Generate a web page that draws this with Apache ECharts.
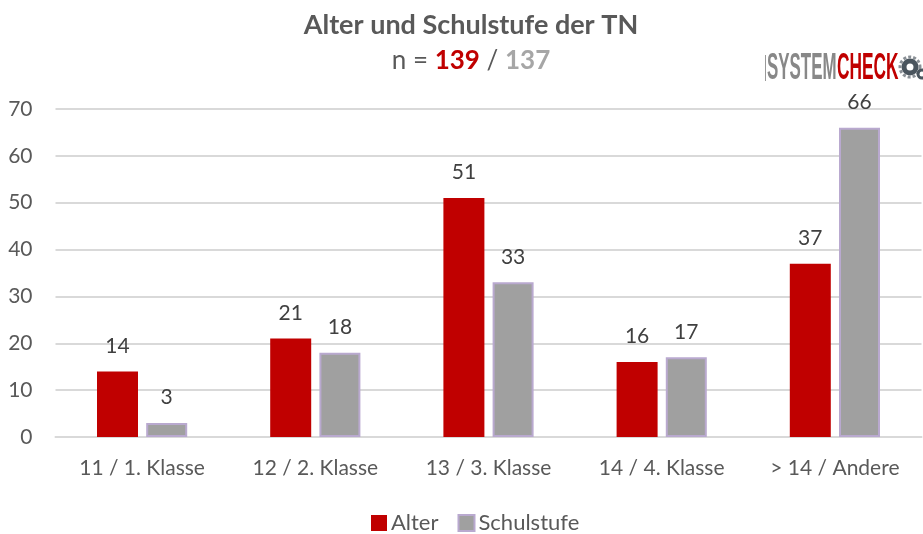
<!DOCTYPE html>
<html>
<head>
<meta charset="utf-8">
<style>
  html, body { margin: 0; padding: 0; background: #fff; }
  #chart { width: 923px; height: 534px; }
</style>
<script src="https://cdn.jsdelivr.net/npm/echarts@6/dist/echarts.min.js"></script>
</head>
<body>
<div id="chart"></div>
<script>
const categories = ['11 / 1. Klasse', '12 / 2. Klasse', '13 / 3. Klasse', '14 / 4. Klasse', '> 14 / Andere'];
const alter = [14, 21, 51, 16, 37];
const schulstufe = [3, 18, 33, 17, 66];
const font = 'Lato, "Open Sans", sans-serif';

const labelStyle = {
  show: true,
  position: 'top',
  distance: 15,
  color: '#404040',
  fontSize: 21,
  fontFamily: font
};

const myChart = echarts.init(document.getElementById('chart'));
myChart.setOption({
  animation: false,
  title: [{
    text: 'Alter und Schulstufe der TN',
    left: 466,
    top: 7,
    textAlign: 'center',
    textStyle: { color: '#595959', fontSize: 27, fontWeight: 'bold', fontFamily: font }
  }, {
    text: 'n = {a|139} / {b|137}',
    left: 466,
    top: 43,
    textAlign: 'center',
    textStyle: {
      color: '#595959', fontSize: 26, fontWeight: 'normal', fontFamily: font,
      rich: {
        a: { color: '#c00000', fontSize: 26, fontWeight: 'bold', fontFamily: font },
        b: { color: '#a6a6a6', fontSize: 26, fontWeight: 'bold', fontFamily: font }
      }
    }
  }],
  legend: {
    left: 366,
    top: 507,
    icon: 'rect',
    itemWidth: 16,
    itemHeight: 16,
    itemGap: 19,
    textStyle: { color: '#595959', fontSize: 22, fontFamily: font, padding: [0, 0, 0, -1] },
    data: ['Alter', 'Schulstufe']
  },
  grid: { left: 55.5, right: 1.5, top: 109, bottom: 97 },
  xAxis: {
    type: 'category',
    data: categories,
    axisTick: { show: false },
    axisLine: { lineStyle: { color: '#d9d9d9', width: 2 } },
    axisLabel: { color: '#595959', fontSize: 21, fontFamily: font, margin: 21 }
  },
  yAxis: {
    type: 'value',
    min: 0,
    max: 70,
    interval: 10,
    axisLine: { show: false },
    axisTick: { show: false },
    axisLabel: { color: '#595959', fontSize: 21, fontFamily: font, margin: 23 },
    splitLine: { lineStyle: { color: '#d9d9d9', width: 2 } }
  },
  series: [{
    name: 'Alter',
    type: 'bar',
    data: alter,
    barWidth: 41,
    barGap: '20%',
    itemStyle: { color: '#c00000' },
    label: labelStyle
  }, {
    name: 'Schulstufe',
    type: 'bar',
    data: schulstufe,
    barWidth: 41,
    itemStyle: { color: '#a0a0a0', borderColor: '#b9a9cf', borderWidth: 2 },
    label: labelStyle
  }],
  graphic: [
    // logo top right
    { type: 'rect', shape: { x: 765, y: 55, width: 1, height: 26 }, style: { fill: '#999' } },
    { type: 'text', x: 767, y: 69, scaleX: 0.47, style: { text: 'SYSTEM', fill: '#888888', font: 'bold 36px "Liberation Sans"', verticalAlign: 'middle' } },
    { type: 'text', x: 837, y: 69, scaleX: 0.48, style: { text: 'CHECK', fill: '#c00000', font: 'bold 36px "Liberation Sans"', verticalAlign: 'middle' } },
    { type: 'circle', shape: { cx: 910, cy: 67, r: 6 }, style: { fill: 'none', stroke: '#4a555e', lineWidth: 5 } },
    { type: 'circle', shape: { cx: 910, cy: 67, r: 10 }, style: { fill: 'none', stroke: '#8a9096', lineWidth: 3, lineDash: [3, 2] } },
    { type: 'circle', shape: { cx: 922, cy: 74, r: 4 }, style: { fill: 'none', stroke: '#4a555e', lineWidth: 3 } }
  ]
});
</script>
</body>
</html>
